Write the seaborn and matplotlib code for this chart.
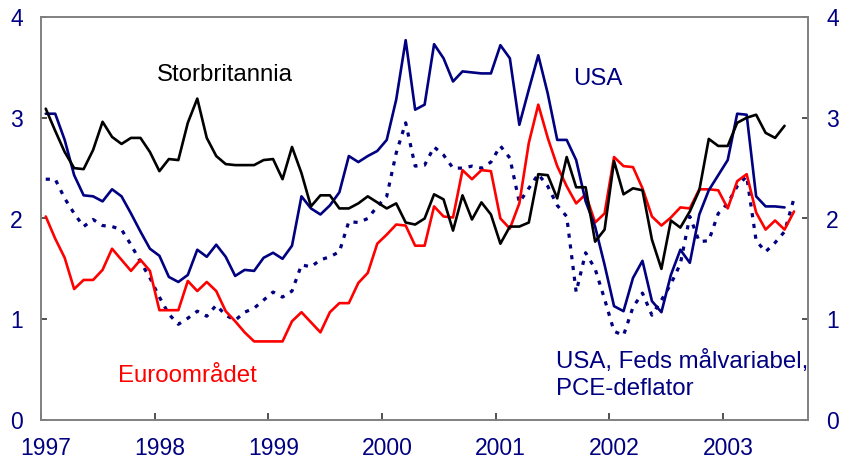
import numpy as np
import pandas as pd
import matplotlib
matplotlib.use("Agg")
import matplotlib.pyplot as plt
import matplotlib.transforms as mtransforms
import seaborn as sns

# ---- data (monthly, starting Jan 1997) ----
storbritannia = [3.09, 2.87, 2.66, 2.50, 2.49, 2.68, 2.96, 2.81, 2.74, 2.80, 2.80, 2.66,
                 2.47, 2.59, 2.58, 2.95, 3.19, 2.80, 2.62, 2.54, 2.53, 2.53, 2.53, 2.58,
                 2.59, 2.39, 2.71, 2.45, 2.12, 2.23, 2.23, 2.10, 2.10, 2.15, 2.22, 2.16,
                 2.10, 2.15, 1.96, 1.94, 2.00, 2.24, 2.19, 1.88, 2.23, 1.99, 2.16, 2.04,
                 1.75, 1.92, 1.92, 1.96, 2.44, 2.43, 2.20, 2.61, 2.31, 2.31, 1.77, 1.89,
                 2.57, 2.24, 2.30, 2.28, 1.79, 1.50, 1.98, 1.91, 2.07, 2.28, 2.79, 2.72,
                 2.72, 2.95, 3.00, 3.03, 2.85, 2.80, 2.92]
usa = [3.04, 3.04, 2.78, 2.43, 2.23, 2.22, 2.17, 2.29, 2.22, 2.05, 1.87, 1.70,
       1.63, 1.42, 1.37, 1.44, 1.69, 1.62, 1.74, 1.62, 1.43, 1.49, 1.48, 1.61,
       1.66, 1.60, 1.73, 2.22, 2.10, 2.04, 2.13, 2.26, 2.62, 2.56, 2.62, 2.67,
       2.78, 3.18, 3.77, 3.08, 3.13, 3.73, 3.59, 3.36, 3.46, 3.45, 3.44, 3.44,
       3.72, 3.59, 2.93, 3.28, 3.62, 3.24, 2.78, 2.78, 2.58, 2.17, 1.92, 1.54,
       1.13, 1.08, 1.41, 1.58, 1.18, 1.07, 1.44, 1.69, 1.56, 2.04, 2.28, 2.43,
       2.58, 3.04, 3.03, 2.22, 2.12, 2.12, 2.11]
euro = [2.02, 1.80, 1.61, 1.30, 1.39, 1.39, 1.49, 1.70, 1.59, 1.48, 1.59, 1.48,
        1.09, 1.09, 1.09, 1.38, 1.28, 1.37, 1.28, 1.08, 0.98, 0.87, 0.78, 0.78,
        0.78, 0.78, 0.98, 1.07, 0.97, 0.87, 1.07, 1.16, 1.16, 1.36, 1.46, 1.75,
        1.84, 1.94, 1.93, 1.73, 1.73, 2.12, 2.02, 2.01, 2.48, 2.39, 2.48, 2.47,
        2.00, 1.90, 2.15, 2.75, 3.13, 2.80, 2.52, 2.32, 2.15, 2.24, 1.96, 2.05,
        2.61, 2.52, 2.51, 2.30, 2.02, 1.93, 2.01, 2.11, 2.10, 2.29, 2.29, 2.28,
        2.10, 2.37, 2.44, 2.06, 1.89, 1.98, 1.89, 2.07]
usa_pce = [2.39, 2.39, 2.20, 2.05, 1.92, 1.99, 1.93, 1.92, 1.89, 1.74, 1.57, 1.41,
           1.22, 1.05, 0.95, 1.01, 1.08, 1.03, 1.14, 1.04, 0.99, 1.07, 1.11, 1.19,
           1.27, 1.22, 1.28, 1.54, 1.52, 1.59, 1.62, 1.67, 1.97, 1.96, 2.00, 2.12,
           2.22, 2.65, 2.95, 2.52, 2.53, 2.71, 2.63, 2.50, 2.50, 2.52, 2.50, 2.56,
           2.72, 2.60, 2.16, 2.30, 2.44, 2.32, 2.13, 2.02, 1.27, 1.66, 1.50, 1.20,
           0.88, 0.84, 1.12, 1.26, 1.04, 1.19, 1.35, 1.55, 2.02, 1.77, 1.78, 2.05,
           2.15, 2.32, 2.42, 1.78, 1.67, 1.76, 1.87, 2.20]
start_year = 1997
year_ticks = [1997, 1998, 1999, 2000, 2001, 2002, 2003]
y_ticks = [0, 1, 2, 3, 4]


def months(series):
    return start_year + (np.arange(len(series)) + 0.5) / 12.0


NAVY = "#000080"
RED = "#FF0000"

sns.set_theme(style="white")
plt.rcParams["font.family"] = ["Liberation Sans", "DejaVu Sans"]

fig = plt.figure(figsize=(8.41, 4.69), dpi=100)
ax = fig.add_axes([41 / 841, 1 - 420 / 469, (808 - 41) / 841, (420 - 17) / 469])

sns.lineplot(x=months(usa_pce), y=usa_pce, ax=ax, color=NAVY, linewidth=2.3,
             linestyle=(0, (1.3, 2.1)), errorbar=None)
sns.lineplot(x=months(euro), y=euro, ax=ax, color=RED, linewidth=1.9, errorbar=None)
sns.lineplot(x=months(usa), y=usa, ax=ax, color=NAVY, linewidth=1.9, errorbar=None)
sns.lineplot(x=months(storbritannia), y=storbritannia, ax=ax, color="black",
             linewidth=1.9, errorbar=None)

ax.set_xlim(1997, 2003.748)
ax.set_ylim(0, 4)
ax.set_xticks(year_ticks)
ax.set_xticklabels([str(y) for y in year_ticks])
ax.set_yticks(y_ticks)
ax.set_yticklabels([str(v) for v in y_ticks])

for s in ax.spines.values():
    s.set_visible(True)
    s.set_color("#808080")
    s.set_linewidth(1.4)

ax.tick_params(axis="y", which="both", direction="in", length=4, width=1.2,
               color="#333333", left=True, right=True, labelleft=True,
               labelright=True, labelsize=16.5, labelcolor=NAVY, pad=13)
ax.tick_params(axis="x", direction="in", length=5, width=1.2, color="#333333",
               bottom=True, labelsize=16.5, labelcolor=NAVY, pad=12)

offset = mtransforms.ScaledTranslation(5 / 100, 0, fig.dpi_scale_trans)
for lab in ax.get_xticklabels():
    lab.set_transform(lab.get_transform() + offset)

ax.set_xlabel("")
ax.set_ylabel("")
ax.grid(False)


def px2data(px, py):
    return 1997 + (px - 41) / 113.67, (420 - py) / 100.75


fs = 17.3
x, y = px2data(157, 75)
ax.text(x, y, "Storbritannia", color="black", fontsize=fs, ha="left", va="center")
x, y = px2data(573, 79)
ax.text(x, y, "USA", color=NAVY, fontsize=fs, ha="left", va="center")
x, y = px2data(118, 376)
ax.text(x, y, "Euroområdet", color=RED, fontsize=fs, ha="left", va="center")
x, y = px2data(556, 361)
ax.text(x, y, "USA, Feds målvariabel,", color=NAVY, fontsize=fs, ha="left", va="center")
x, y = px2data(556, 389)
ax.text(x, y, "PCE-deflator", color=NAVY, fontsize=fs, ha="left", va="center")

fig.savefig("out.png", dpi=100)
